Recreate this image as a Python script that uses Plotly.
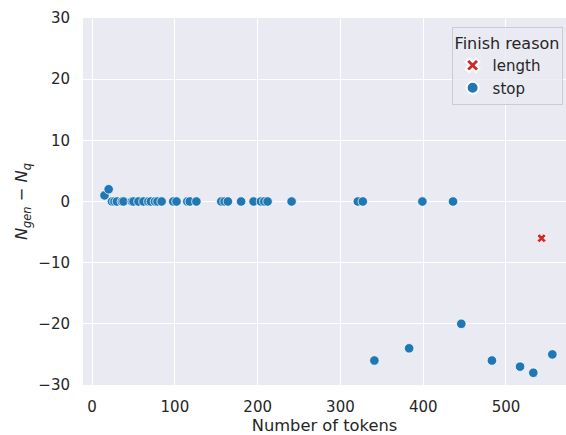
import plotly.graph_objects as go

# Data
stop_tokens = [15, 20, 24, 27, 30, 36, 38, 48, 50, 56, 62, 68, 71, 76, 79, 84,
               98, 102, 115, 118, 126, 156, 160, 164, 180, 195, 204, 208, 212,
               241, 321, 327, 399, 436, 341, 383, 446, 483, 517, 533, 556]
stop_diff = [1, 2, 0, 0, 0, 0, 0, 0, 0, 0, 0, 0, 0, 0, 0, 0,
             0, 0, 0, 0, 0, 0, 0, 0, 0, 0, 0, 0, 0,
             0, 0, 0, 0, 0, -26, -24, -20, -26, -27, -28, -25]
length_tokens = [543]
length_diff = [-6]

x_ticks = [0, 100, 200, 300, 400, 500]
y_ticks = [-30, -20, -10, 0, 10, 20, 30]

font = "DejaVu Sans"
fig = go.Figure()
fig.add_trace(go.Scatter(
    x=length_tokens, y=length_diff, mode="markers", name="length",
    marker=dict(symbol="x", size=8, color="#d62728",
                line=dict(color="white", width=0.75)),
))
fig.add_trace(go.Scatter(
    x=stop_tokens, y=stop_diff, mode="markers", name="stop",
    marker=dict(symbol="circle", size=9.5, color="#1f77b4",
                line=dict(color="white", width=0.75)),
))

fig.update_layout(
    width=566, height=435,
    margin=dict(l=83, r=0, t=18, b=50),
    paper_bgcolor="white", plot_bgcolor="#EAEAF2",
    font=dict(family=font, size=15, color="#262626"),
    showlegend=True,
    legend=dict(
        title=dict(text="Finish reason", font=dict(size=16, color="#262626")),
        x=0.993, y=0.975, xanchor="right", yanchor="top",
        bgcolor="rgba(234,234,242,0.8)", bordercolor="#cccccc", borderwidth=1,
        font=dict(size=15, color="#262626"),
        itemsizing="constant", tracegroupgap=0,
    ),
    xaxis=dict(
        range=[-11, 572.5], tickvals=x_ticks, showgrid=True, gridcolor="white",
        gridwidth=1.2, zeroline=False, showline=False, ticks="",
        ticklabelstandoff=11, automargin=False,
        tickfont=dict(size=15), title=dict(text="Number of tokens", font=dict(size=16.3), standoff=4),
    ),
    yaxis=dict(
        range=[-30, 30], tickvals=y_ticks, showgrid=True, gridcolor="white",
        gridwidth=1.2, zeroline=False, showline=False, ticks="",
        ticklabelstandoff=12, automargin=False,
        tickfont=dict(size=15), tickformat="d",
        title=dict(text="<i>N</i><sub><i>gen</i></sub> − <i>N</i><sub><i>q</i></sub>",
                   font=dict(size=16.3), standoff=6),
    ),
)
fig.write_html("out.html", config={"displayModeBar": False},
               post_script="document.body.style.margin='0';")
